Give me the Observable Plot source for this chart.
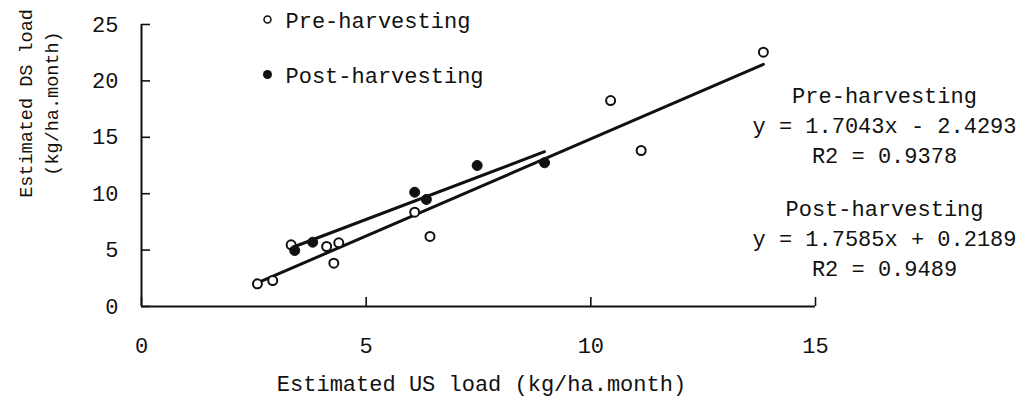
<!DOCTYPE html>
<html>
<head>
<meta charset="utf-8">
<script src="https://cdn.jsdelivr.net/npm/d3@7"></script>
<script src="https://cdn.jsdelivr.net/npm/@observablehq/plot@0.6"></script>
<style>
  body { margin: 0; background: #fff; }
  svg { display: block; }
</style>
</head>
<body>
<div id="chart"></div>
<script>
// Monthly loads: upstream (US) vs downstream (DS), kg/ha.month
const preUS  = [2.58, 2.92, 3.33, 4.12, 4.28, 4.39, 6.08, 6.42, 10.44, 11.12, 13.84];
const preDS  = [2.01, 2.30, 5.47, 5.32, 3.84, 5.65, 8.36, 6.21, 18.26, 13.83, 22.55];
const postUS = [3.41, 3.81, 6.08, 6.34, 7.47, 8.97];
const postDS = [4.96, 5.70, 10.13, 9.49, 12.50, 12.74];

const seriesNames = ["Pre-harvesting", "Post-harvesting"];
const fitLabels = [
  "Pre-harvesting\ny = 1.7043x - 2.4293\nR2 = 0.9378",
  "Post-harvesting\ny = 1.7585x + 0.2189\nR2 = 0.9489"
];
const xTicks = [0, 5, 10, 15];
const yTicks = [0, 5, 10, 15, 20, 25];
const xLabel = "Estimated US load (kg/ha.month)";
const yLabel = "Estimated DS load\n(kg/ha.month)";

const pre = preUS.map((x, i) => ({x, y: preDS[i]}));
const post = postUS.map((x, i) => ({x, y: postDS[i]}));

const ink = "#111";

const chart = Plot.plot({
  width: 1029,
  height: 402,
  marginLeft: 141,
  marginRight: 214,
  marginTop: 24,
  marginBottom: 96,
  style: {fontFamily: "'Liberation Mono', monospace", fontSize: "22px", color: ink, background: "#fff"},
  x: {domain: [0, 15]},
  y: {domain: [0, 25]},
  marks: [
    // inward ticks
    Plot.axisX({ticks: xTicks, tickSize: -9, tickPadding: 40, strokeWidth: 1.6, label: null, tickFormat: d => String(d)}),
    Plot.axisY({ticks: yTicks, tickSize: -9, tickPadding: 32, strokeWidth: 1.6, label: null, tickFormat: d => String(d)}),
    Plot.ruleX([0], {stroke: ink, strokeWidth: 2}),
    Plot.ruleY([0], {stroke: ink, strokeWidth: 2}),
    // least-squares trend lines
    Plot.linearRegressionY(pre, {x: "x", y: "y", stroke: ink, strokeWidth: 3, ci: 0}),
    Plot.linearRegressionY(post, {x: "x", y: "y", stroke: ink, strokeWidth: 3, ci: 0}),
    // observations
    Plot.dot(pre, {x: "x", y: "y", r: 4.5, stroke: ink, strokeWidth: 2, fill: "#fff"}),
    Plot.dot(post, {x: "x", y: "y", r: 5, fill: ink, stroke: ink, strokeWidth: 1}),
    // legend
    Plot.dot([0], {x: null, y: null, frameAnchor: "top-left", dx: 126, dy: -5, r: 3.5, stroke: ink, strokeWidth: 1.5, fill: "#fff"}),
    Plot.dot([0], {x: null, y: null, frameAnchor: "top-left", dx: 126, dy: 50, r: 4.5, fill: ink}),
    Plot.text([seriesNames[0]], {frameAnchor: "top-left", dx: 144, dy: -4, textAnchor: "start", lineAnchor: "middle", fill: ink}),
    Plot.text([seriesNames[1]], {frameAnchor: "top-left", dx: 144, dy: 51, textAnchor: "start", lineAnchor: "middle", fill: ink}),
    // fit equations
    Plot.text([fitLabels[0]], {frameAnchor: "top-right", dx: 69, dy: 99, textAnchor: "middle", lineAnchor: "middle", lineHeight: 1.35, fill: ink}),
    Plot.text([fitLabels[1]], {frameAnchor: "top-right", dx: 69, dy: 212, textAnchor: "middle", lineAnchor: "middle", lineHeight: 1.35, fill: ink}),
    // axis titles
    Plot.text([xLabel], {frameAnchor: "bottom", dx: 3, dy: 77, textAnchor: "middle", lineAnchor: "middle", fill: ink}),
    Plot.text([yLabel], {frameAnchor: "left", dx: -105, dy: -62, rotate: -90, textAnchor: "middle", lineAnchor: "middle", fontSize: 18.5, lineHeight: 1.45, fill: ink})
  ]
});

document.getElementById("chart").append(chart);
</script>
</body>
</html>
